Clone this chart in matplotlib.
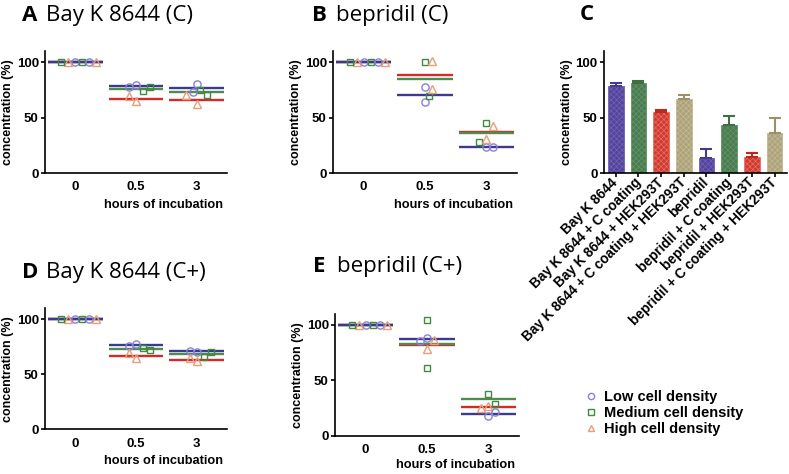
import matplotlib
matplotlib.use("Agg")
import matplotlib.pyplot as plt
import numpy as np
from matplotlib.lines import Line2D

W, H = 789, 474

times = ["0", "0.5", "3"]

# two replicates per cell density at every time point
bay_c_low = [[100, 100], [79.6, 77.5], [80.5, 73.0]]
bay_c_med = [[100, 100], [74.2, 77.5], [75.0, 70.6]]
bay_c_high = [[100, 100], [64.6, 69.0], [62.5, 70.0]]

bep_c_low = [[100, 100], [77.5, 63.7], [23.4, 23.4]]
bep_c_med = [[100, 100], [100.0, 69.7], [45.0, 27.6]]
bep_c_high = [[100, 100], [101.2, 75.7], [42.6, 30.6]]

bay_cp_low = [[100, 100], [77.0, 75.8], [70.4, 71.0]]
bay_cp_med = [[100, 100], [73.4, 71.9], [65.9, 69.8]]
bay_cp_high = [[100, 100], [64.4, 68.9], [61.9, 64.4]]

bep_cp_low = [[100, 100], [88.0, 85.8], [18.1, 21.7]]
bep_cp_med = [[100, 100], [104.5, 60.8], [37.7, 28.3]]
bep_cp_high = [[100, 100], [86.4, 78.0], [26.8, 24.7]]

conditions = ["Bay K 8644", "Bay K 8644 + C coating", "Bay K 8644 + HEK293T",
              "Bay K 8644 + C coating + HEK293T", "bepridil", "bepridil + C coating",
              "bepridil + HEK293T", "bepridil + C coating + HEK293T"]
cond_mean = [78.9, 81.3, 54.8, 67.2, 13.6, 43.7, 14.5, 36.1]
cond_sd = [2.4, 1.8, 2.4, 3.0, 8.1, 8.1, 3.5, 13.3]

density_labels = ["Low cell density", "Medium cell density", "High cell density"]

# styles
pt_colors = ["#8a80dc", "#3f8a3f", "#eb9d78"]
mean_colors = ["#3c3a8e", "#4f8a4f", "#d42a2a"]
markers = ["o", "s", "^"]
msizes = [5.2, 4.8, 5.2]
bar_face = ["#55459a", "#4a7c4f", "#d03a30", "#ada37c"] * 2
bar_hatch = ["#7062b6", "#63936a", "#e66f64", "#c2b995"] * 2
bar_err = ["#463a8c", "#3e6e42", "#c0281e", "#9c9066"] * 2

plt.rcParams["font.family"] = "Liberation Sans"
plt.rcParams["hatch.linewidth"] = 0.5

fig = plt.figure(figsize=(W / 100, H / 100), dpi=100)


def px_axes(left, right, y0, ytop):
    return fig.add_axes([left / W, 1 - y0 / H, (right - left) / W, (y0 - ytop) / H])


def style_axes(ax):
    for s in ["top", "right"]:
        ax.spines[s].set_visible(False)
    for s in ["left", "bottom"]:
        ax.spines[s].set_linewidth(1.2)
    ax.set_ylim(0, 110)
    ax.set_yticks([0, 50, 100])
    ax.tick_params(axis="y", direction="out", length=3, width=1.2, pad=1.5,
                   labelsize=9.5)
    for lab in ax.get_yticklabels():
        lab.set_fontweight("bold")
    ax.set_ylabel("concentration (%)", fontsize=9, fontweight="bold", labelpad=2)


def swarm(vals, center, xpx=61.0, ypx=1.11, diam=7.0):
    placed, xs = [], []
    cands = [0]
    for i in range(1, 30):
        cands += [i, -i]
    for v in vals:
        for c in cands:
            dx = c * diam / 2
            if all((dx - p) ** 2 + ((v - pv) * ypx) ** 2 >= diam ** 2 for p, pv in placed):
                break
        placed.append((dx, v))
        xs.append(center + dx / xpx)
    return xs


def scatter_panel(ax, series):
    style_axes(ax)
    ax.set_xlim(-0.5, 2.5)
    for g in range(len(times)):
        vals, who = [], []
        for r in range(2):
            for d in range(3):
                vals.append(series[d][g][r])
                who.append(d)
        xs = swarm(vals, g)
        for d in [2, 1, 0]:
            m = np.mean(series[d][g])
            ax.hlines(m, g - 0.45, g + 0.45, color=mean_colors[d], lw=1.7, zorder=2)
        for x, v, d in zip(xs, vals, who):
            ax.plot(x, v, marker=markers[d], ms=msizes[d], mfc="none",
                    mec=pt_colors[d], mew=1.0, ls="none", zorder=3)
    ax.set_xticks(range(len(times)))
    ax.set_xticklabels(times, fontsize=9.5, fontweight="bold")
    ax.tick_params(axis="x", length=0, pad=6)
    ax.set_xlabel("hours of incubation", fontsize=9.2, fontweight="bold", loc="right",
                  labelpad=4)
    ax.xaxis.label.set_x(0.98)


axA = px_axes(45, 227, 173, 51)
axB = px_axes(333, 517, 173, 51)
axC = px_axes(604, 787, 173.3, 51)
axD = px_axes(45, 227, 429.3, 308)
axE = px_axes(335, 519, 435.7, 313.9)

scatter_panel(axA, [bay_c_low, bay_c_med, bay_c_high])
scatter_panel(axB, [bep_c_low, bep_c_med, bep_c_high])
scatter_panel(axD, [bay_cp_low, bay_cp_med, bay_cp_high])
scatter_panel(axE, [bep_cp_low, bep_cp_med, bep_cp_high])
axE.xaxis.labelpad = 2

# panel C bars
style_axes(axC)
xc = np.arange(len(conditions))
axC.bar(xc, cond_mean, width=0.68, color=bar_face, edgecolor=bar_hatch,
        hatch="xxxxxx", linewidth=0.6, zorder=2)
for i in xc:
    axC.errorbar(i, cond_mean[i], yerr=[[0], [cond_sd[i]]], color=bar_err[i],
                 capsize=4, elinewidth=1.5, capthick=1.5, zorder=3)
axC.set_xlim(-0.52, 7.55)
axC.set_xticks(xc)
axC.set_xticklabels(conditions, rotation=45, ha="right", va="center",
                    rotation_mode="anchor", fontsize=9.8, fontweight="bold")
axC.tick_params(axis="x", direction="out", length=3, width=1.2, pad=2)

# panel titles: bold letter followed by regular text
titles = [("A", "Bay K 8644 (C)", 22, 20.7), ("B", "bepridil (C)", 312, 20.7),
          ("C", "", 580, 19.5), ("D", "Bay K 8644 (C+)", 22, 278),
          ("E", "bepridil (C+)", 313, 272)]
for letter, rest, tx, ty in titles:
    fig.text(tx / W, 1 - ty / H, letter, fontsize=16, fontweight="bold",
             family="Open Sans", va="baseline", ha="left")
    if rest:
        fig.text((tx + 24) / W, 1 - ty / H, rest, fontsize=16, family="Open Sans",
                 va="baseline", ha="left")

# legend
handles = [Line2D([], [], marker=markers[d], ms=msizes[d] - 0.7, mfc="none",
                  mec=pt_colors[d], mew=1.0, ls="none") for d in range(3)]
fig.legend(handles, density_labels, loc="center left",
           bbox_to_anchor=(576 / W, 1 - 413 / H), frameon=False,
           prop=dict(family="Liberation Sans", weight="bold", size=10.5),
           handlelength=1.0, handletextpad=0.4, labelspacing=0.15, borderpad=0)

fig.savefig("out.png", dpi=100)
